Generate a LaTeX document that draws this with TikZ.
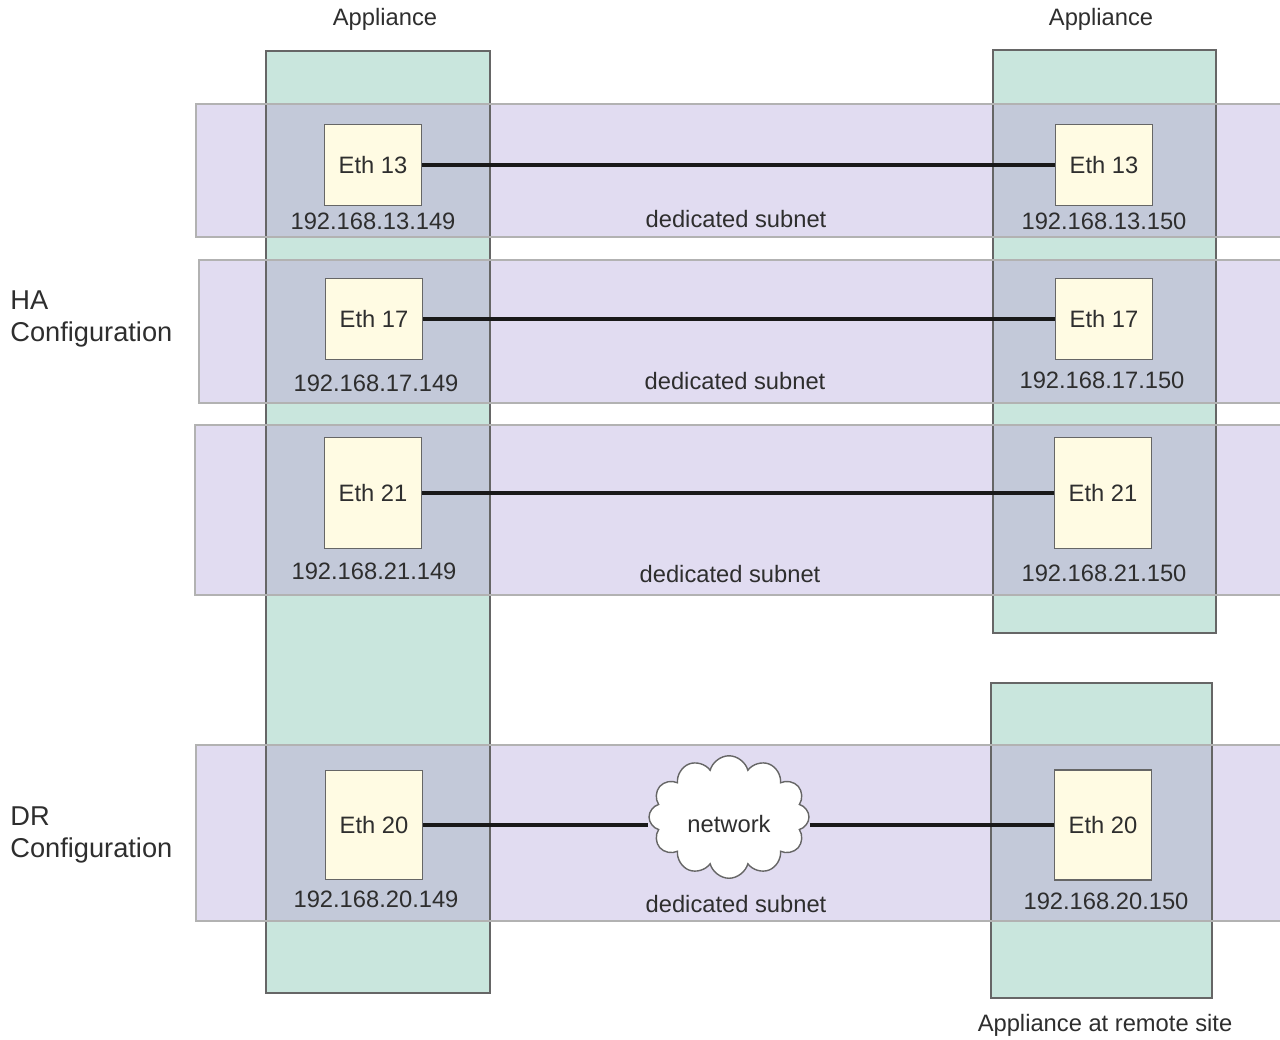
\documentclass[tikz,border=0pt]{standalone}
\usepackage{fontspec}
\setmainfont{Liberation Sans}
\usepackage{tikz}
\usetikzlibrary{shapes.symbols, positioning}
\definecolor{applgreen}{HTML}{C9E6DD}
\definecolor{bandlav}{HTML}{E1DCF1}
\definecolor{overlapblue}{HTML}{C3C9D9}
\definecolor{ethcream}{HTML}{FFFBE3}
\definecolor{txtgray}{HTML}{2E2E2E}

\begin{document}
\begin{tikzpicture}[
    x=0.02cm, y=-0.02cm,
    every node/.style={font=\fontsize{13.5}{18}\selectfont, text=txtgray},
    appliance/.style={fill=applgreen},
    band/.style={fill=bandlav},
    eth/.style={rectangle, draw=black!60, fill=ethcream, line width=0.8pt, minimum width=1.94cm, inner sep=0pt},
    link/.style={line width=1.8pt, black!90},
    config/.style={align=left, anchor=west, inner sep=0pt, font=\fontsize{15.5}{18}\selectfont},
    netcloud/.style={cloud, cloud puffs=12, aspect=1.3, draw=black!60, fill=white, line width=0.8pt, minimum width=3.2cm, minimum height=2.45cm, inner sep=0pt, text height=0.6cm, text depth=0cm}
]
\useasboundingbox (0,0) rectangle (1280,1039);

\fill[white] (0,0) rectangle (1280,1039);

\fill[appliance] (266,51) rectangle (490,993);
\fill[appliance] (993,50) rectangle (1216,633);
\fill[appliance] (991,683) rectangle (1212,998);

\foreach \xa/\ya/\yb in {196/104/237, 199/260/403, 195/425/595, 196/745/921}
  \fill[band] (\xa,\ya) rectangle (1290,\yb);

\begin{scope}
  \clip (266,51) rectangle (490,993);
  \foreach \xa/\ya/\yb in {196/104/237, 199/260/403, 195/425/595, 196/745/921}
    \fill[overlapblue] (\xa,\ya) rectangle (1290,\yb);
\end{scope}
\begin{scope}
  \clip (993,50) rectangle (1216,633);
  \foreach \xa/\ya/\yb in {196/104/237, 199/260/403, 195/425/595}
    \fill[overlapblue] (\xa,\ya) rectangle (1290,\yb);
\end{scope}
\begin{scope}
  \clip (991,683) rectangle (1212,998);
  \fill[overlapblue] (196,745) rectangle (1290,921);
\end{scope}

\draw[black!60, line width=0.8pt] (266,51) rectangle (490,993);
\draw[black!60, line width=0.8pt] (993,50) rectangle (1216,633);
\draw[black!60, line width=0.8pt] (991,683) rectangle (1212,998);
\foreach \xa/\ya/\yb in {196/104/237, 199/260/403, 195/425/595, 196/745/921}
  \draw[black!30, line width=0.8pt] (1290,\ya) -- (\xa,\ya) -- (\xa,\yb) -- (1290,\yb);

\node (applleft) at (385,19) {Appliance};
\node (applright) at (1101,19) {Appliance};
\node (applremote) at (1105,1025) {Appliance at remote site};

\node[config] (ha) at (10,319) {HA\\Configuration};
\node[config] (dr) at (10,835) {DR\\Configuration};

\node[eth, minimum height=1.62cm] (l13) at (373,165) {Eth 13};
\node[eth, minimum height=1.62cm] (r13) at (1104,165) {Eth 13};
\node[eth, minimum height=1.62cm] (l17) at (374,319) {Eth 17};
\node[eth, minimum height=1.62cm] (r17) at (1104,319) {Eth 17};
\node[eth, minimum height=2.22cm] (l21) at (373,493) {Eth 21};
\node[eth, minimum height=2.22cm] (r21) at (1103,493) {Eth 21};
\node[eth, minimum height=2.18cm] (l20) at (374,825) {Eth 20};
\node[eth, minimum height=2.2cm] (r20) at (1103,825) {Eth 20};

\node (ipl13) at (373,221) {192.168.13.149};
\node (ipr13) at (1104,221) {192.168.13.150};
\node (ipl17) at (376,383) {192.168.17.149};
\node (ipr17) at (1102,380) {192.168.17.150};
\node (ipl21) at (374,571) {192.168.21.149};
\node (ipr21) at (1104,573) {192.168.21.150};
\node (ipl20) at (376,899) {192.168.20.149};
\node (ipr20) at (1106,901) {192.168.20.150};

\node (sub13) at (736,219) {dedicated subnet};
\node (sub17) at (735,381) {dedicated subnet};
\node (sub21) at (730,574) {dedicated subnet};
\node (sub20) at (736,904) {dedicated subnet};

\node[netcloud] (net) at (729,817) {network};

\draw[link] (l13) -- (r13);
\draw[link] (l17) -- (r17);
\draw[link] (l21) -- (r21);
\draw[link] (l20) -- (l20 -| net.west);
\draw[link] (net.east |- r20) -- (r20);

\end{tikzpicture}
\end{document}
